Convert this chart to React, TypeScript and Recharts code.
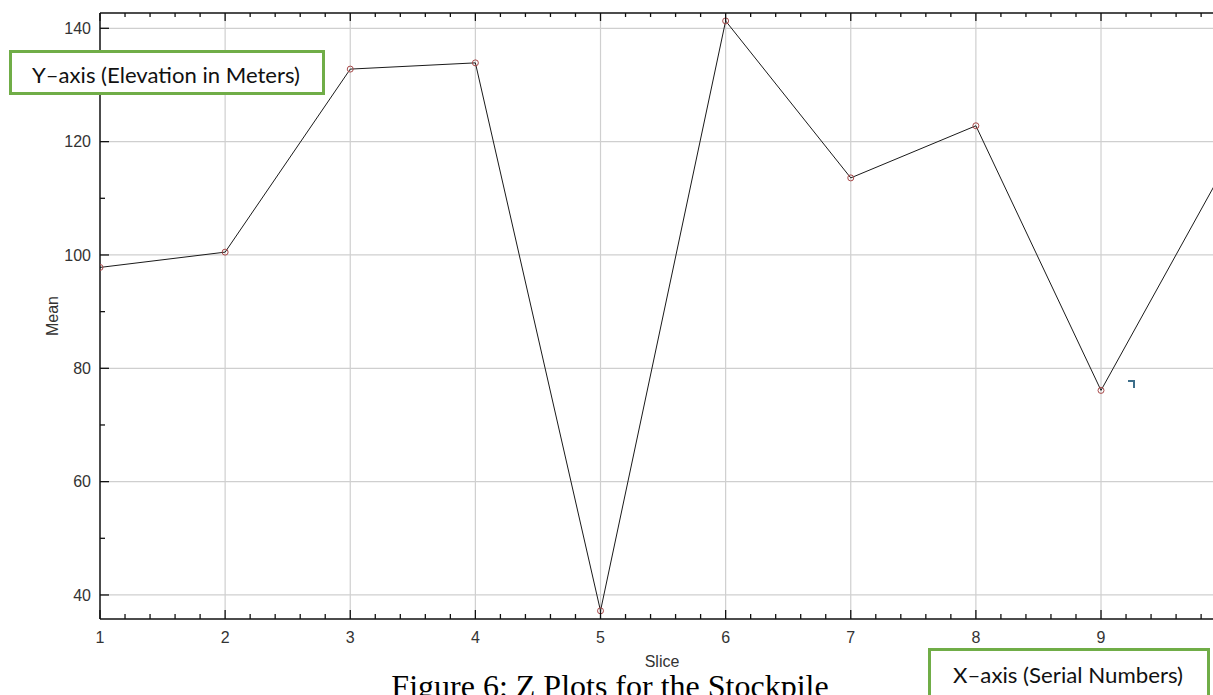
import { LineChart, Line, XAxis, YAxis, ReferenceLine } from 'recharts';

// slice numbers and the mean
const slices = [1, 2, 3, 4, 5, 6, 7, 8, 9, 10];
const means = [97.8, 100.5, 132.8, 133.9, 37.2, 141.3, 113.6, 122.8, 76.1, 116];

const xMajorTicks = [1, 2, 3, 4, 5, 6, 7, 8, 9];
const xMinorSteps = [0.2, 0.4, 0.6, 0.8];
const yTicks = [40, 50, 60, 70, 80, 90, 100, 110, 120, 130, 140];
const yLabelTicks = [40, 60, 80, 100, 120, 140];

const data = slices.map((s, i) => ({ slice: s, mean: means[i] }));

const xTicks: number[] = [];
xMajorTicks.forEach((t) => {
  xTicks.push(t);
  xMinorSteps.forEach((m) => xTicks.push(Number((t + m).toFixed(1))));
});

const isInt = (v: number) => Math.abs(v - Math.round(v)) < 1e-6;

const FONT = '"Liberation Sans", Arial, sans-serif';

const BottomTick = (props: any) => {
  const { x, y, payload } = props;
  const major = isInt(payload.value);
  return (
    <g>
      <line x1={x} x2={x} y1={y} y2={y - (major ? 9 : 5)} stroke="#111" strokeWidth={1.3} />
      {major && (
        <text x={x} y={y + 24} textAnchor="middle" fontSize={16} fill="#333" fontFamily={FONT}>
          {payload.value}
        </text>
      )}
    </g>
  );
};

const TopTick = (props: any) => {
  const { x, y, payload } = props;
  const major = isInt(payload.value);
  return <line x1={x} x2={x} y1={y} y2={y + (major ? 8 : 4)} stroke="#111" strokeWidth={1.3} />;
};

const LeftTick = (props: any) => {
  const { x, y, payload } = props;
  const labelled = yLabelTicks.includes(payload.value);
  return (
    <g>
      <line x1={x} x2={x + (labelled ? 9 : 5)} y1={y} y2={y} stroke="#111" strokeWidth={1.3} />
      {labelled && (
        <text x={x - 9} y={y} dy="0.36em" textAnchor="end" fontSize={16} fill="#333" fontFamily={FONT}>
          {payload.value}
        </text>
      )}
    </g>
  );
};

export default function App() {
  const domainX: [number, number] = [1, 9.895];
  return (
    <div style={{ position: 'absolute', left: 0, top: 0, width: 1213, height: 695, background: '#fff', overflow: 'hidden' }}>
      <LineChart width={1213} height={695} data={data} margin={{ top: 5, right: 0, left: 0, bottom: 36 }}>
        <XAxis
          dataKey="slice"
          type="number"
          domain={domainX}
          allowDataOverflow
          ticks={xTicks}
          interval={0}
          height={40}
          tickSize={0}
          tickMargin={0}
          tickLine={false}
          tick={<BottomTick />}
          axisLine={{ stroke: '#111', strokeWidth: 1.5 }}
        />
        <XAxis
          xAxisId="top"
          orientation="top"
          dataKey="slice"
          type="number"
          domain={domainX}
          allowDataOverflow
          ticks={xTicks}
          interval={0}
          height={8}
          tickSize={0}
          tickMargin={0}
          tickLine={false}
          tick={<TopTick />}
          axisLine={{ stroke: '#111', strokeWidth: 1.5 }}
        />
        <YAxis
          type="number"
          domain={[35.76, 142.7]}
          allowDataOverflow
          ticks={yTicks}
          interval={0}
          width={100}
          tickSize={0}
          tickMargin={0}
          tickLine={false}
          tick={<LeftTick />}
          axisLine={{ stroke: '#111', strokeWidth: 1.5 }}
        />
        {xMajorTicks.slice(1).map((t) => (
          <ReferenceLine key={'vx' + t} x={t} stroke="#cfcfcf" strokeWidth={1.2} />
        ))}
        {yLabelTicks.map((t) => (
          <ReferenceLine key={'hy' + t} y={t} stroke="#cfcfcf" strokeWidth={1.2} />
        ))}
        <Line
          xAxisId="top"
          dataKey="mean"
          stroke="none"
          dot={false}
          activeDot={false}
          legendType="none"
          isAnimationActive={false}
        />
        <Line
          type="linear"
          dataKey="mean"
          stroke="#1a1a1a"
          strokeWidth={1}
          dot={{ r: 3, stroke: '#a84a4a', strokeWidth: 1, fill: 'none' }}
          activeDot={false}
          isAnimationActive={false}
        />
      </LineChart>
      <svg
        width={1213}
        height={695}
        style={{ position: 'absolute', left: 0, top: 0, pointerEvents: 'none' }}
      >
        <text
          x={52}
          y={316}
          transform="rotate(-90 52 316)"
          textAnchor="middle"
          dy="0.35em"
          fontSize={16}
          fill="#333"
          fontFamily={FONT}
        >
          Mean
        </text>
        <text x={662} y={667} textAnchor="middle" fontSize={16} fill="#333" fontFamily={FONT}>
          Slice
        </text>
        <text
          x={610}
          y={697}
          textAnchor="middle"
          fontSize={32}
          fill="#000"
          fontFamily='"Liberation Serif", "Times New Roman", serif'
        >
          Figure 6: Z Plots for the Stockpile
        </text>
        <rect x={10.5} y={51.5} width={313} height={42} fill="#fff" stroke="#70ad47" strokeWidth={3} />
        <text
          x={166}
          y={83}
          textAnchor="middle"
          fontSize={22}
          fill="#111"
          fontFamily="Lato, sans-serif"
          textLength={268}
          lengthAdjust="spacingAndGlyphs"
        >
          Y–axis (Elevation in Meters)
        </text>
        <rect x={929.5} y={649.5} width={279} height={60} fill="#fff" stroke="#70ad47" strokeWidth={3} />
        <text
          x={1068}
          y={683}
          textAnchor="middle"
          fontSize={22}
          fill="#111"
          fontFamily="Lato, sans-serif"
          textLength={230}
          lengthAdjust="spacingAndGlyphs"
        >
          X–axis (Serial Numbers)
        </text>
        <path d="M1128 381 H1134 V388" fill="none" stroke="#3d6e8a" strokeWidth={2} />
      </svg>
    </div>
  );
}
